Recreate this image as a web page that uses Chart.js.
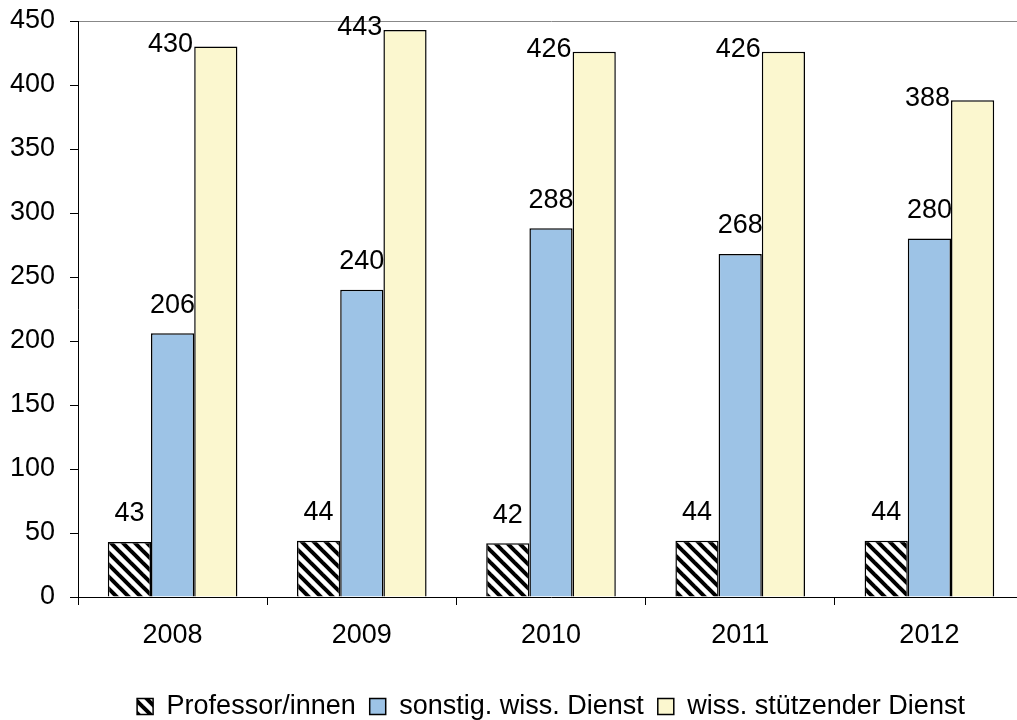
<!DOCTYPE html>
<html>
<head>
<meta charset="utf-8">
<script src="https://cdn.jsdelivr.net/npm/chart.js@4/dist/chart.umd.min.js"></script>
<style>
  html, body { margin: 0; padding: 0; background: #fff; overflow: hidden; }
  #wrap { width: 1040px; height: 720px; }
</style>
</head>
<body>
<div id="wrap"><canvas id="chart" width="1040" height="720"></canvas></div>
<script>
const years = ["2008", "2009", "2010", "2011", "2012"];
const professoren = [43, 44, 42, 44, 44];
const sonstigWiss = [206, 240, 288, 268, 280];
const stuetzend = [430, 443, 426, 426, 388];
const seriesNames = ["Professor/innen", "sonstig. wiss. Dienst", "wiss. stützender Dienst"];
const yMax = 450;
const yStep = 50;

// hatch pattern for the professor bars
function makeHatch() {
  const s = 12;
  const c = document.createElement("canvas");
  c.width = s; c.height = s;
  const g = c.getContext("2d");
  g.fillStyle = "#fff";
  g.fillRect(0, 0, s, s);
  g.strokeStyle = "#000";
  g.lineWidth = 4;
  for (let k = -1; k <= 1; k++) {
    g.beginPath();
    g.moveTo(k * s - 2, -2);
    g.lineTo(k * s + s + 2, s + 2);
    g.stroke();
  }
  return g.createPattern(c, "repeat");
}
const hatch = makeHatch();

const FONT = "'Liberation Sans', Arial, sans-serif";
const FS = 27;
Chart.defaults.font.family = FONT;
Chart.defaults.color = "#000";

// value labels: yellow series sits left of its bar at the bar top
const valueLabels = {
  id: "valueLabels",
  afterDatasetsDraw(chart) {
    const ctx = chart.ctx;
    ctx.save();
    ctx.font = FS + "px " + FONT;
    ctx.fillStyle = "#000";
    ctx.textAlign = "center";
    ctx.textBaseline = "middle";
    chart.data.datasets.forEach((ds, i) => {
      chart.getDatasetMeta(i).data.forEach((bar, j) => {
        let x = bar.x, y = bar.y - 28;
        if (i === 2) { x = bar.x - bar.width - 2; y = bar.y - 2; }
        ctx.fillText(String(ds.data[j]), x, y);
      });
    });
    ctx.restore();
  }
};

// legend centred under the plot area and a bit lower
const legendShift = {
  id: "legendShift",
  afterLayout(chart) {
    const lg = chart.legend;
    lg.left = chart.chartArea.left;
    lg.right = chart.chartArea.right;
    lg.top += 10;
    lg.bottom += 10;
  }
};

new Chart(document.getElementById("chart"), {
  type: "bar",
  data: {
    labels: years,
    datasets: [
      { label: seriesNames[0], data: professoren, backgroundColor: hatch },
      { label: seriesNames[1], data: sonstigWiss, backgroundColor: "#9DC3E6" },
      { label: seriesNames[2], data: stuetzend, backgroundColor: "#FBF7CF" }
    ]
  },
  options: {
    responsive: false,
    animation: false,
    layout: { padding: { top: 21, right: 16, bottom: 0, left: 0 } },
    datasets: {
      bar: {
        borderColor: "#000",
        borderWidth: 1.5,
        categoryPercentage: 0.685,
        barPercentage: 1
      }
    },
    plugins: {
      tooltip: { enabled: false },
      legend: {
        position: "bottom",
        labels: {
          font: { size: FS },
          boxWidth: 16,
          boxHeight: 16,
          padding: 14
        }
      }
    },
    scales: {
      x: {
        grid: { offset: true, drawOnChartArea: false, tickLength: 8, color: "#000" },
        border: { color: "#000", width: 1 },
        ticks: { font: { size: FS }, padding: 14 },
        afterFit(scale) { scale.height = 72; }
      },
      y: {
        min: 0,
        max: yMax,
        grid: {
          tickLength: 8,
          tickColor: "#000",
          color: c => (c.tick && c.tick.value === yMax ? "#888" : "rgba(0,0,0,0)")
        },
        border: { color: "#000", width: 1 },
        ticks: { stepSize: yStep, font: { size: FS }, padding: 15 },
        afterFit(scale) {
          scale.width = 78;
          scale.paddingTop = 0;
          scale.paddingBottom = 0;
        }
      }
    }
  },
  plugins: [valueLabels, legendShift]
});
</script>
</body>
</html>
